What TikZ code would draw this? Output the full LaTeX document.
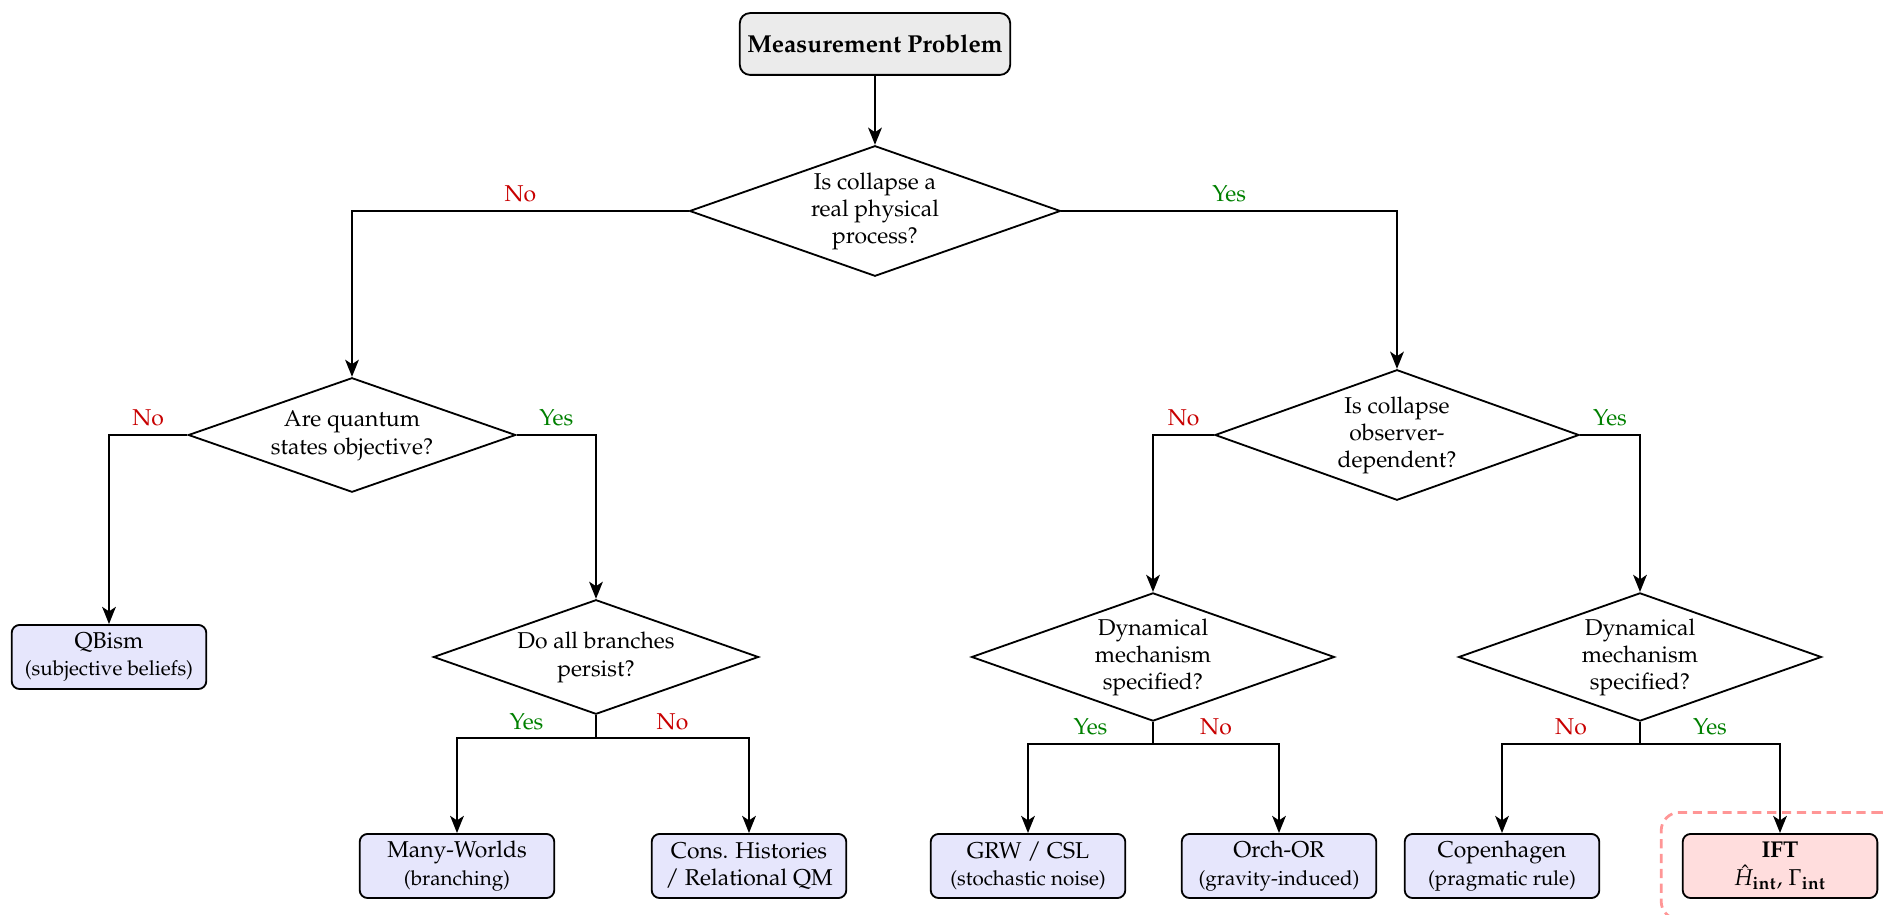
\documentclass[tikz,border=0pt]{standalone}
\usepackage[T1]{fontenc}
\usepackage{mathpazo}
\usetikzlibrary{shapes.geometric,arrows.meta,fit}
\definecolor{nored}{RGB}{200,0,0}
\definecolor{yesgreen}{RGB}{0,128,0}
\definecolor{leafblue}{RGB}{230,230,252}
\definecolor{iftpink}{RGB}{255,221,221}
\definecolor{topgray}{RGB}{235,235,235}
\definecolor{hlred}{RGB}{255,150,150}
\newcommand\dtext[1]{\makebox[0pt]{\begin{tabular}{@{}c@{}}#1\end{tabular}}}
\tikzset{
  decision/.style={diamond, draw, line width=0.8pt, aspect=1, inner sep=0pt},
  leaf/.style={rectangle, rounded corners=3.5pt, draw, line width=0.8pt, fill=leafblue,
    align=center, minimum width=85pt, minimum height=28pt, inner sep=2pt},
  startbox/.style={rectangle, rounded corners=4.5pt, draw, line width=0.8pt, fill=topgray,
    align=center, minimum width=118pt, minimum height=27pt, font=\fontsize{10.7}{13}\selectfont\bfseries},
  conn/.style={line width=0.8pt},
  arr/.style={conn, -{Stealth[length=7.5pt,width=6pt,inset=2pt]}},
  nolab/.style={above, text=nored},
  yeslab/.style={above, text=yesgreen},
  highlight/.style={draw=hlred, line width=1.2pt, dash pattern=on 4pt off 2.5pt,
    rounded corners=8pt, inner sep=9pt}
}
\begin{document}
\begin{tikzpicture}[x=0.4367pt,y=-0.4367pt]
\useasboundingbox (0,0) rectangle (1883,915);

\node[startbox] (top) at (875,44) {Measurement Problem};
\node[decision, minimum width=162pt, minimum height=57pt] (d1) at (875,211) {\dtext{Is collapse a\\real physical\\process?}};
\node[decision, minimum width=143pt, minimum height=50pt] (d2) at (352,435) {\dtext{Are quantum\\states objective?}};
\node[decision, minimum width=159pt, minimum height=57pt] (d3) at (1397,435) {\dtext{Is collapse\\observer-\\dependent?}};
\node[leaf] (qb) at (109,657) {QBism\\{\small (subjective beliefs)}};
\node[decision, minimum width=142pt, minimum height=50pt] (d4) at (596,657) {\dtext{Do all branches\\persist?}};
\node[decision, minimum width=158.5pt, minimum height=56pt] (d5) at (1153,657) {\dtext{Dynamical\\mechanism\\specified?}};
\node[decision, minimum width=158.5pt, minimum height=56pt] (d6) at (1640,657) {\dtext{Dynamical\\mechanism\\specified?}};

\node[leaf] (mw) at (457,866) {Many-Worlds\\{\small (branching)}};
\node[leaf] (ch) at (749,866) {Cons. Histories\\/ Relational QM};
\node[leaf] (grw) at (1028,866) {GRW / CSL\\{\small (stochastic noise)}};
\node[leaf] (orch) at (1279,866) {Orch-OR\\{\small (gravity-induced)}};
\node[leaf] (cop) at (1502,866) {Copenhagen\\{\small (pragmatic rule)}};
\node[leaf, fill=iftpink] (ift) at (1780,866) {\textbf{IFT}\\$\hat{H}_{\mathbf{int}}$, $\Gamma_{\mathbf{int}}$};
\node[highlight, fit=(ift)] (hl) {};

\draw[arr] (top) -- (d1);
\draw[arr] (d1.west) -| (d2.north) node[nolab, pos=0.25] {No};
\draw[arr] (d1.east) -| (d3.north) node[yeslab, pos=0.25] {Yes};
\draw[arr] (d2.west) -| (qb.north) node[nolab, pos=0.25] {No};
\draw[arr] (d2.east) -| (d4.north) node[yeslab, pos=0.25] {Yes};
\draw[arr] (d3.west) -| (d5.north) node[nolab, pos=0.25] {No};
\draw[arr] (d3.east) -| (d6.north) node[yeslab, pos=0.25] {Yes};

\path (d4.south) ++(0,23) coordinate (j4);
\path (d5.south) ++(0,22) coordinate (j5);
\path (d6.south) ++(0,22) coordinate (j6);
\draw[conn] (d4.south) -- (j4);
\draw[conn] (d5.south) -- (j5);
\draw[conn] (d6.south) -- (j6);
\draw[arr] (j4) -| (mw.north) node[yeslab, pos=0.25] {Yes};
\draw[arr] (j4) -| (ch.north) node[nolab, pos=0.25] {No};
\draw[arr] (j5) -| (grw.north) node[yeslab, pos=0.25] {Yes};
\draw[arr] (j5) -| (orch.north) node[nolab, pos=0.25] {No};
\draw[arr] (j6) -| (cop.north) node[nolab, pos=0.25] {No};
\draw[arr] (j6) -| (ift.north) node[yeslab, pos=0.25] {Yes};
\end{tikzpicture}
\end{document}
